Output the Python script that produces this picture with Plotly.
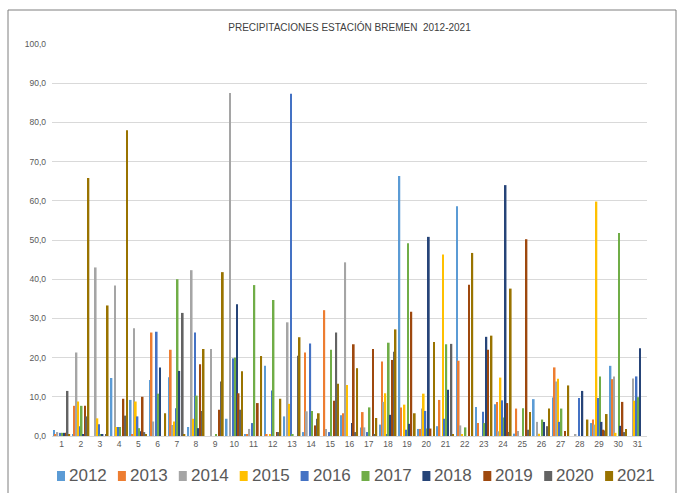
import plotly.graph_objects as go

days = [str(d) for d in range(1, 32)]
years = ["2012", "2013", "2014", "2015", "2016", "2017", "2018", "2019", "2020", "2021"]

p2012 = [1.5, 0.5, 0, 14.8, 9.2, 14.3, 15.0, 2.3, 0, 4.4, 0.5, 17.9, 5.0, 1.0, 0, 5.3, 2.2, 2.9, 66.3, 1.8, 2.5, 58.6, 7.4, 8.1, 0.6, 9.4, 9.8, 0, 3.3, 17.9, 0]
p2013 = [0.5, 7.7, 0, 0, 0.5, 26.4, 22.0, 0, 0, 0, 0.3, 0.5, 0, 21.3, 32.1, 5.8, 6.1, 19.0, 7.3, 1.8, 9.2, 19.2, 3.3, 8.7, 7.0, 0, 17.5, 0, 4.2, 14.5, 0]
p2014 = [1.0, 21.3, 43.0, 38.4, 27.5, 3.7, 2.8, 42.3, 22.2, 87.5, 1.8, 0, 29.0, 6.3, 1.8, 44.3, 2.2, 8.7, 0, 7.0, 0, 2.7, 0, 1.2, 1.3, 3.6, 13.9, 0.3, 2.9, 15.2, 14.7]
p2015 = [0, 8.8, 4.5, 2.3, 8.8, 0, 3.7, 4.4, 0, 0, 0, 0.5, 8.2, 0, 0, 13.0, 0, 10.9, 8.0, 10.8, 46.3, 0.5, 0, 14.9, 0, 0.6, 14.6, 0, 59.8, 0.8, 9.0]
p2016 = [0.8, 2.5, 3.0, 2.3, 5.0, 26.6, 7.1, 26.4, 0, 19.8, 3.3, 11.6, 87.3, 23.6, 1.0, 0, 1.0, 0.5, 1.6, 6.4, 4.4, 0, 6.2, 9.1, 0, 0, 3.6, 9.7, 9.7, 0, 15.2]
p2017 = [0.8, 7.7, 0.5, 2.3, 2.0, 10.8, 40.0, 10.3, 0.5, 20.0, 38.5, 34.7, 0.5, 6.4, 22.0, 0, 7.3, 23.8, 49.2, 1.9, 23.4, 2.2, 3.3, 4.7, 7.1, 4.2, 7.0, 0, 15.2, 51.8, 9.9]
p2018 = [0.8, 0.5, 0.5, 0, 1.2, 17.5, 16.6, 2.0, 0, 33.6, 0, 0, 0, 0, 0, 3.3, 0, 5.4, 3.1, 50.8, 11.8, 0, 25.3, 64.0, 0, 3.6, 0, 11.5, 3.6, 2.6, 22.4]
p2019 = [0.8, 7.7, 0, 9.5, 10.0, 0, 0, 18.3, 6.7, 10.9, 8.4, 1.0, 0, 2.7, 9.0, 23.4, 22.2, 19.4, 31.7, 1.9, 0, 38.6, 22.0, 8.4, 50.2, 0, 1.3, 0, 1.6, 8.7, 0]
p2020 = [11.5, 5.0, 0.5, 5.2, 1.0, 0, 31.4, 6.4, 13.9, 6.7, 0, 1.0, 20.5, 4.4, 26.4, 1.0, 0.5, 21.5, 0, 0, 23.5, 0, 0, 1.0, 1.6, 2.5, 0, 0, 1.4, 1.0, 0]
p2021 = [0.3, 65.8, 33.3, 78.0, 0.5, 5.8, 0.5, 22.2, 41.8, 16.5, 20.4, 9.5, 25.2, 5.8, 13.3, 17.3, 4.6, 27.2, 5.8, 24.0, 0.5, 46.7, 25.6, 37.6, 6.1, 7.0, 12.9, 4.2, 5.6, 1.8, 0]

series = [p2012, p2013, p2014, p2015, p2016, p2017, p2018, p2019, p2020, p2021]
colors = ["#5B9BD5", "#ED7D31", "#A5A5A5", "#FFC000", "#4472C4",
          "#70AD47", "#264478", "#9E480E", "#636363", "#997300"]

W, H = 691, 493
L, R, T, B = 52, 44, 44, 57
pw, ph = W - L - R, H - T - B


def px2x(px):
    return (px - L) / pw


def py2y(py):
    return (H - B - py) / ph


fig = go.Figure()
for name, vals, col in zip(years, series, colors):
    fig.add_trace(go.Bar(x=days, y=vals, name=name, marker_color=col,
                         marker_line_width=0, showlegend=False))

# custom legend row (Excel-like compact spacing)
shapes = [dict(type="rect", xref="paper", yref="paper",
               x0=px2x(8), x1=px2x(676), y0=py2y(500), y1=py2y(10),
               line=dict(color="#7F7F7F", width=1), layer="below")]
annotations = []
leg_y = 476
for i, (name, col) in enumerate(zip(years, colors)):
    mx = 57 + 60.9 * i
    shapes.append(dict(type="rect", xref="paper", yref="paper",
                       x0=px2x(mx), x1=px2x(mx + 8),
                       y0=py2y(leg_y + 5), y1=py2y(leg_y - 5),
                       fillcolor=col, line=dict(width=0)))
    annotations.append(dict(text=name, xref="paper", yref="paper",
                            x=px2x(mx + 10), y=py2y(leg_y),
                            xanchor="left", yanchor="middle", showarrow=False,
                            font=dict(size=17, color="#595959",
                                      family="Liberation Sans, Arial, sans-serif")))

fig.update_layout(
    width=W, height=H,
    margin=dict(l=L, r=R, t=T, b=B, autoexpand=False),
    paper_bgcolor="white", plot_bgcolor="white",
    barmode="group", bargap=0.11, bargroupgap=0,
    separators=",.",
    showlegend=False,
    font=dict(family="Liberation Sans, Arial, sans-serif", color="#595959"),
    title=dict(text="PRECIPITACIONES ESTACIÓN BREMEN  2012-2021",
               x=0.5, xref="paper", y=1 - 27 / H, yref="container",
               xanchor="center", yanchor="middle",
               font=dict(size=10, color="#404040")),
    xaxis=dict(type="category", showgrid=False, showline=True,
               linecolor="#D9D9D9", linewidth=1, ticks="",
               tickfont=dict(size=8.5, color="#595959")),
    yaxis=dict(range=[0, 100], dtick=10, tickformat=".1f",
               showgrid=True, gridcolor="#D9D9D9", gridwidth=1,
               zeroline=False, showline=False, ticks="",
               ticklabelstandoff=5,
               tickfont=dict(size=8.5, color="#595959")),
    shapes=shapes,
    annotations=annotations,
)

fig.write_html("out.html",
               config={"displayModeBar": False},
               post_script="document.body.style.margin='0px';document.body.style.overflow='hidden';")
